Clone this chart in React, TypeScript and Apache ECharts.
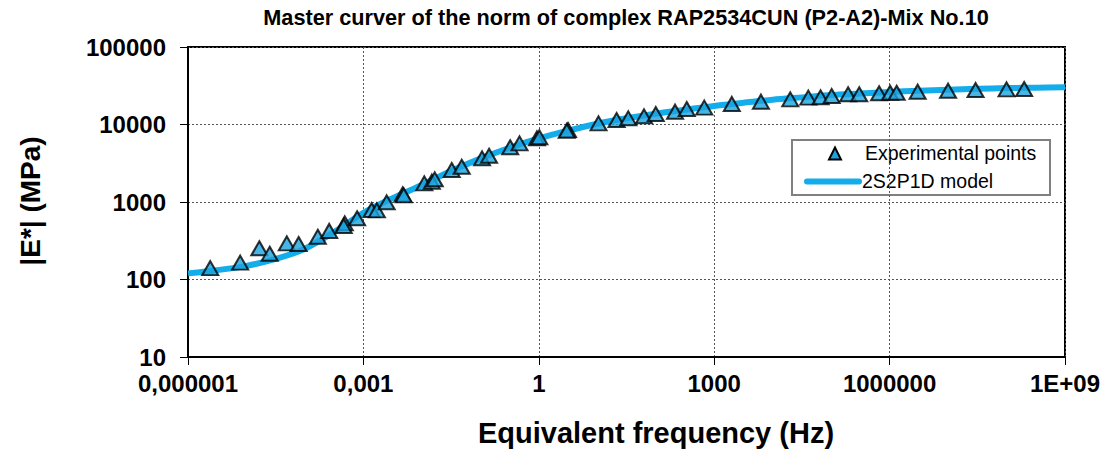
import React, { useEffect, useRef } from "react";
import * as echarts from "echarts";

// Experimental points: [equivalent frequency (Hz), |E*| (MPa)]
const expFreq = [
  2.4e-6, 7.8e-6, 1.66e-5, 2.5e-5, 4.9e-5, 7.8e-5, 1.66e-4, 2.6e-4, 4.8e-4, 4.6e-4,
  7.8e-4, 1.38e-3, 1.7e-3, 2.5e-3, 4.7e-3, 4.9e-3, 0.011, 0.0148, 0.0166, 0.0324,
  0.048, 0.107, 0.141, 0.324, 0.468, 0.93, 1.02, 3.16, 3.0, 10.5,
  21.4, 33.9, 63, 100, 214, 339, 676, 2000, 6300, 20000,
  40700, 66000, 102000, 195000, 302000, 661000, 1020000, 1320000, 3020000, 1.0e7,
  2.95e7, 1.0e8, 2.0e8,
];
const expModulus = [
  140, 165, 253, 215, 293, 287, 356, 423, 531, 490,
  617, 789, 780, 991, 1256, 1219, 1742, 1828, 1963, 2588,
  2851, 3664, 3954, 5082, 5715, 6637, 6839, 8492, 8300, 10350,
  11430, 12020, 12760, 13650, 14620, 15850, 16480, 18410, 19680, 21130,
  22180, 22440, 23330, 24550, 24550, 25290, 25700, 25700, 26490, 27290,
  27860, 28440, 28710,
];

// 2S2P1D model curve
const modelFreq = [
  1e-6, 3.16e-6, 1e-5, 3.16e-5, 1e-4, 3.16e-4, 1e-3, 3.16e-3, 0.01, 0.0316,
  0.1, 0.316, 1, 3.16, 10, 31.6, 100, 316, 1000, 3160,
  10000, 31600, 1e5, 3.16e5, 1e6, 3.16e6, 1e7, 3.16e7, 1e8, 3.16e8, 1e9,
];
const modelModulus = [
  120, 132, 150, 184, 250, 410, 724, 1122, 1660, 2512,
  3631, 5012, 6607, 8318, 10230, 12020, 13800, 15490, 17380, 19050,
  20890, 22390, 23990, 25120, 26300, 27230, 28180, 28840, 29510, 29850, 30200,
];

const xTickLabels = ["0,000001", "0,001", "1", "1000", "1000000", "1E+09"];
const yTickLabels = ["10", "100", "1000", "10000", "100000"];
const legendNames = ["Experimental points", "2S2P1D model"];

const TITLE = "Master curver of the norm of complex RAP2534CUN (P2-A2)-Mix No.10";
const X_NAME = "Equivalent frequency (Hz)";
const Y_NAME = "|E*| (MPa)";
const FONT = "'Liberation Sans', Arial, sans-serif";
const LINE_COLOR = "#14ADEB";
const MARK_COLOR = "#1BA3DF";

export default function App() {
  const ref = useRef<HTMLDivElement>(null);
  useEffect(() => {
    if (!ref.current) return;
    const chart = echarts.init(ref.current, undefined, { renderer: "svg" });
    const expData = expFreq.map((f, i) => [f, expModulus[i]]);
    const modelData = modelFreq.map((f, i) => [f, modelModulus[i]]);
    chart.setOption({
      animation: false,
      backgroundColor: "#ffffff",
      textStyle: { fontFamily: FONT },
      grid: {
        left: 188,
        right: 47,
        top: 47,
        bottom: 94,
        show: true,
        borderColor: "#000",
        borderWidth: 2,
        backgroundColor: "transparent",
      },
      xAxis: {
        type: "log",
        logBase: 1000,
        min: 1e-6,
        max: 1e9,
        splitNumber: 5,
        axisLine: { show: true, lineStyle: { color: "#000", width: 2 } },
        axisTick: { show: true, length: 8, lineStyle: { color: "#000", width: 1 } },
        minorTick: { show: false },
        splitLine: { show: true, lineStyle: { color: "#555", width: 1, type: [2, 2] } },
        axisLabel: {
          margin: 14,
          fontSize: 24,
          fontWeight: "bold",
          color: "#000",
          fontFamily: FONT,
          formatter: (v: number) => {
            const k = Math.round(Math.log10(v) / 3) + 2;
            return xTickLabels[k] ?? "";
          },
        },
      },
      yAxis: {
        type: "log",
        logBase: 10,
        min: 10,
        max: 100000,
        axisLine: { show: true, lineStyle: { color: "#000", width: 2 } },
        axisTick: { show: true, length: 8, lineStyle: { color: "#000", width: 1 } },
        splitLine: { show: true, lineStyle: { color: "#555", width: 1, type: [2, 2] } },
        axisLabel: {
          margin: 22,
          fontSize: 24,
          fontWeight: "bold",
          color: "#000",
          fontFamily: FONT,
          formatter: (v: number) => {
            const k = Math.round(Math.log10(v)) - 1;
            return yTickLabels[k] ?? "";
          },
        },
      },
      graphic: [
        {
          type: "text",
          x: 626,
          y: 17,
          style: {
            text: TITLE,
            fontSize: 21.7,
            fontWeight: "bold",
            fontFamily: FONT,
            fill: "#000",
            align: "center",
            verticalAlign: "middle",
          },
        },
        {
          type: "text",
          x: 656,
          y: 433,
          style: {
            text: X_NAME,
            fontSize: 29,
            fontWeight: "bold",
            fontFamily: FONT,
            fill: "#000",
            align: "center",
            verticalAlign: "middle",
          },
        },
        {
          type: "text",
          x: 30,
          y: 201,
          rotation: Math.PI / 2,
          style: {
            text: Y_NAME,
            fontSize: 28,
            fontWeight: "bold",
            fontFamily: FONT,
            fill: "#000",
            align: "center",
            verticalAlign: "middle",
          },
        },
        // Legend box
        {
          type: "group",
          z: 100,
          children: [
            {
              type: "rect",
              shape: { x: 792, y: 140, width: 258, height: 55 },
              style: { fill: "#fff", stroke: "#808080", lineWidth: 2 },
            },
            {
              type: "polygon",
              shape: { points: [[835, 147.5], [829, 159.5], [841, 159.5]] },
              style: { fill: MARK_COLOR, stroke: "#000", lineWidth: 2 },
            },
            {
              type: "text",
              x: 865,
              y: 153,
              style: {
                text: legendNames[0],
                fontSize: 19.5,
                fontFamily: FONT,
                fill: "#000",
                align: "left",
                verticalAlign: "middle",
              },
            },
            {
              type: "line",
              shape: { x1: 807, y1: 181.5, x2: 859, y2: 181.5 },
              style: { stroke: LINE_COLOR, lineWidth: 6, lineCap: "round" },
            },
            {
              type: "text",
              x: 862,
              y: 181,
              style: {
                text: legendNames[1],
                fontSize: 19.5,
                fontFamily: FONT,
                fill: "#000",
                align: "left",
                verticalAlign: "middle",
              },
            },
          ],
        },
      ],
      series: [
        {
          name: legendNames[1],
          type: "line",
          data: modelData,
          smooth: 0.3,
          showSymbol: false,
          symbol: "none",
          lineStyle: { color: LINE_COLOR, width: 6 },
          itemStyle: { color: LINE_COLOR },
          z: 2,
        },
        {
          name: legendNames[0],
          type: "scatter",
          data: expData,
          symbol: "triangle",
          symbolSize: [16, 14],
          itemStyle: { color: MARK_COLOR, borderColor: "#000", borderWidth: 2 },
          z: 3,
        },
      ],
    });
    return () => chart.dispose();
  }, []);
  return (
    <div
      ref={ref}
      style={{ position: "fixed", left: 0, top: 0, width: 1112, height: 451 }}
    />
  );
}
